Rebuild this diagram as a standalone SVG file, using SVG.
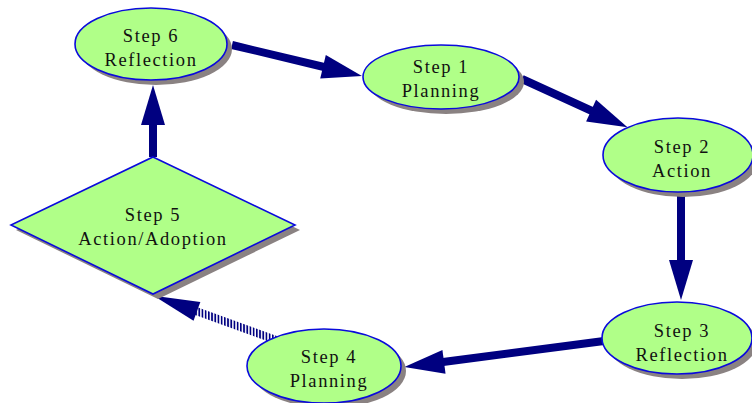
<svg xmlns="http://www.w3.org/2000/svg" width="752" height="403" viewBox="0 0 752 403">
<defs>
<style>
.node{fill:#b0ff88;stroke:#0a0adc;stroke-width:1.6}
.shadow{fill:#8a8282}
.lbl{font-family:"Liberation Serif","Times New Roman",serif;font-size:18.5px;letter-spacing:1.6px;fill:#111;text-anchor:middle}
.conn{stroke:#000080;stroke-width:8;fill:none}
</style>
<marker id="ah" markerUnits="userSpaceOnUse" markerWidth="42" markerHeight="24" refX="1" refY="12" orient="auto" overflow="visible">
<path d="M0,0 L40,12 L0,24 z" fill="#000080"/>
</marker>
<marker id="ah5" markerUnits="userSpaceOnUse" markerWidth="46" markerHeight="20" refX="1" refY="10" orient="auto" overflow="visible">
<path d="M0,0 L46,10 L0,20 z" fill="#000080"/>
</marker>
<pattern id="hatch" patternUnits="userSpaceOnUse" width="3.2" height="4">
<rect x="0" y="0" width="1.7" height="4" fill="#000080"/>
</pattern>
</defs>
<g id="connectors">
<line class="conn" x1="232" y1="45" x2="324" y2="67" marker-end="url(#ah)"/>
<line class="conn" x1="522" y1="79" x2="592" y2="111" marker-end="url(#ah)"/>
<line class="conn" x1="681" y1="194" x2="681" y2="261" marker-end="url(#ah)"/>
<line class="conn" x1="604" y1="341" x2="443" y2="362" marker-end="url(#ah)"/>
<line x1="276" y1="340" x2="196" y2="311" stroke="url(#hatch)" stroke-width="8" fill="none"/>
<line x1="276" y1="340" x2="196" y2="311" stroke="none" stroke-width="8" marker-end="url(#ah5)"/>
<line class="conn" x1="153" y1="157" x2="153" y2="124" marker-end="url(#ah)"/>
</g>
<g id="step6">
<ellipse class="shadow" cx="156" cy="49" rx="76" ry="36"/>
<ellipse class="node" cx="151" cy="44" rx="76" ry="36"/>
<text class="lbl" x="151" y="42">Step 6</text>
<text class="lbl" x="151" y="66">Reflection</text>
</g>
<g id="step1">
<ellipse class="shadow" cx="446" cy="82" rx="78" ry="32"/>
<ellipse class="node" cx="441" cy="77" rx="78" ry="32"/>
<text class="lbl" x="441" y="73">Step 1</text>
<text class="lbl" x="441" y="97">Planning</text>
</g>
<g id="step2">
<ellipse class="shadow" cx="683" cy="160" rx="75" ry="37"/>
<ellipse class="node" cx="678" cy="155" rx="75" ry="37"/>
<text class="lbl" x="682" y="153">Step 2</text>
<text class="lbl" x="682" y="177">Action</text>
</g>
<g id="step3">
<ellipse class="shadow" cx="682" cy="343" rx="75" ry="36"/>
<ellipse class="node" cx="677" cy="338" rx="75" ry="36"/>
<text class="lbl" x="682" y="337">Step 3</text>
<text class="lbl" x="682" y="361">Reflection</text>
</g>
<g id="step4">
<ellipse class="shadow" cx="329" cy="371" rx="77" ry="37"/>
<ellipse class="node" cx="324" cy="366" rx="77" ry="37"/>
<text class="lbl" x="329" y="363">Step 4</text>
<text class="lbl" x="329" y="387">Planning</text>
</g>
<g id="step5">
<polygon class="shadow" points="158,162 300,230 158,299 16,230"/>
<polygon class="node" points="153,157 295,225 153,294 11,225"/>
<text class="lbl" x="153" y="221">Step 5</text>
<text class="lbl" x="153" y="245">Action/Adoption</text>
</g>
</svg>
